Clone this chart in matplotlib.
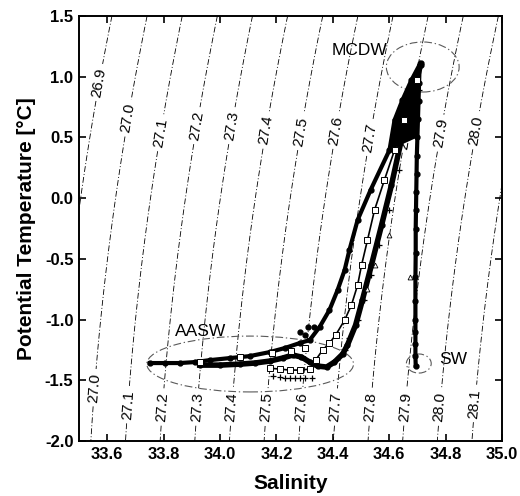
import numpy as np
import matplotlib
matplotlib.use('Agg')
import matplotlib.pyplot as plt
from matplotlib.patches import Ellipse

plt.rcParams['font.family'] = ['Liberation Sans', 'DejaVu Sans']
plt.rcParams['axes.unicode_minus'] = False

# ---------------- data ----------------
sigma_levels = [26.9, 27.0, 27.1, 27.2, 27.3, 27.4, 27.5, 27.6, 27.7, 27.8, 27.9, 28.0, 28.1]

# contour label anchor positions (salinity, temperature)
label_upper_S = [33.578, 33.673, 33.787, 33.911, 34.035, 34.162, 34.282, 34.406, 34.530, 34.672, 34.771, 34.895]
label_upper_T = [0.95, 0.66, 0.54, 0.60, 0.60, 0.56, 0.55, 0.56, 0.50, 0.52, 0.54, 0.56]
label_lower_S = [33.550, 33.670, 33.797, 33.918, 34.040, 34.151, 34.282, 34.410, 34.534, 34.661, 34.778, 34.902]
label_lower_T = [-1.56, -1.70, -1.72, -1.72, -1.72, -1.72, -1.72, -1.72, -1.72, -1.72, -1.72, -1.69]

# branch A (filled circles, left branch)
A_S = [34.711, 34.679, 34.647, 34.619, 34.601, 34.534, 34.488, 34.459, 34.442, 34.417, 34.388,
       34.353, 34.318, 34.282, 34.229, 34.176, 34.105, 34.035, 33.964, 33.911, 33.858, 33.804, 33.751]
A_T = [1.113, 0.973, 0.808, 0.643, 0.396, 0.067, -0.180, -0.427, -0.592, -0.757, -0.922,
       -1.062, -1.169, -1.194, -1.235, -1.268, -1.301, -1.317, -1.334, -1.350, -1.358, -1.358, -1.358]

# branch B (filled circles, hooked branch)
B_S = [34.711, 34.679, 34.643, 34.608, 34.573, 34.537, 34.505, 34.481, 34.452, 34.435, 34.406,
       34.378, 34.346, 34.318, 34.289, 34.258, 34.222, 34.176, 34.123, 34.070, 33.999, 33.928]
B_T = [1.096, 0.808, 0.479, 0.108, -0.222, -0.551, -0.839, -1.045, -1.210, -1.284, -1.350,
       -1.391, -1.383, -1.350, -1.309, -1.292, -1.317, -1.342, -1.358, -1.367, -1.375, -1.375]

# branch C (open squares)
C_S = [34.700, 34.654, 34.619, 34.583, 34.548, 34.523, 34.502, 34.488, 34.466, 34.442, 34.410,
       34.388, 34.364, 34.339, 34.318, 34.282, 34.247, 34.212, 34.176]
C_T = [0.973, 0.643, 0.396, 0.149, -0.098, -0.345, -0.551, -0.716, -0.881, -1.004, -1.128,
       -1.194, -1.251, -1.334, -1.408, -1.416, -1.416, -1.408, -1.400]
C2_S = [34.183, 34.070, 33.928, 34.300, 34.250]
C2_T = [-1.276, -1.309, -1.350, -1.230, -1.260]

# branch D (plus signs)
D_S = [34.707, 34.672, 34.636, 34.601, 34.565, 34.537, 34.512, 34.488, 34.459, 34.442,
       34.325, 34.300, 34.282, 34.265, 34.247, 34.230, 34.212, 34.187]
D_T = [0.890, 0.561, 0.231, -0.098, -0.386, -0.633, -0.839, -1.004, -1.152, -1.251,
       -1.482, -1.482, -1.482, -1.480, -1.482, -1.478, -1.474, -1.466]

# triangles
E_S = [34.672, 34.600, 34.550, 34.520]
E_T = [-0.650, -0.300, -0.550, -0.750]

# shelf-water column (filled circles)
SW_S = [34.708, 34.706, 34.704, 34.702, 34.700, 34.698, 34.697, 34.696, 34.695, 34.694, 34.694,
        34.693, 34.693, 34.693, 34.693, 34.693, 34.693, 34.694]
SW_T = [1.10, 0.95, 0.80, 0.65, 0.50, 0.35, 0.20, 0.05, -0.10, -0.25, -0.45,
        -0.65, -0.85, -1.00, -1.10, -1.20, -1.30, -1.38]

# scattered dots
X_S = [34.311, 34.335, 34.282, 34.300]
X_T = [-1.062, -1.062, -1.103, -1.130]

# water-mass ellipses
mass_names = ['MCDW', 'AASW', 'SW']
ell_S = [34.719, 34.107, 34.705]
ell_T = [1.080, -1.366, -1.362]
ell_w = [0.258, 0.733, 0.088]
ell_h = [0.412, 0.460, 0.157]
name_S = [34.495, 33.932, 34.827]
name_T = [1.22, -1.10, -1.33]


def sigma0(S, T):
    rw = (999.842594 + 6.793952e-2 * T - 9.095290e-3 * T**2 + 1.001685e-4 * T**3
          - 1.120083e-6 * T**4 + 6.536332e-9 * T**5)
    A = 8.24493e-1 - 4.0899e-3 * T + 7.6438e-5 * T**2 - 8.2467e-7 * T**3 + 5.3875e-9 * T**4
    B = -5.72466e-3 + 1.0227e-4 * T - 1.6546e-6 * T**2
    C = 4.8314e-4
    return rw + A * S + B * S**1.5 + C * S**2 - 1000.0


fig = plt.figure(figsize=(5.2, 4.96), dpi=100)
ax = fig.add_axes([79 / 520, 1 - 441 / 496, 423 / 520, 425 / 496])

sg, tg = np.meshgrid(np.linspace(33.5, 35.0, 300), np.linspace(-2.0, 1.5, 300))
dens = sigma0(sg, tg)
dd = (0, (7, 2.5, 1.2, 2.5))
cs = ax.contour(sg, tg, dens, levels=sigma_levels, colors='black', linewidths=0.6,
                linestyles=[dd], zorder=1)
manual = list(zip(label_upper_S, label_upper_T)) + list(zip(label_lower_S, label_lower_T))
labels = ax.clabel(cs, levels=sigma_levels, manual=manual, inline=True, inline_spacing=4,
                   fmt='%.1f', fontsize=11)
for t in labels:
    t.set_zorder(1.5)

for cx, cy, w, h in zip(ell_S, ell_T, ell_w, ell_h):
    ax.add_patch(Ellipse((cx, cy), w, h, fill=False, ec='0.35', lw=0.8, ls=dd, zorder=2))
for n, x, y in zip(mass_names, name_S, name_T):
    ax.text(x, y, n, fontsize=12.5, ha='center', va='center', zorder=4)

# dense upper wedge where all warm profiles overlap
ax.fill(np.r_[A_S[:5], SW_S[4::-1]], np.r_[A_T[:5], SW_T[4::-1]], color='black', lw=0, zorder=3)

ax.plot(A_S, A_T, '-', color='black', lw=3.0, marker='o', ms=3.5, zorder=3)
ax.plot(B_S, B_T, '-', color='black', lw=4.0, marker='o', ms=3.5, zorder=3)
ax.plot(SW_S, SW_T, '-', color='black', lw=3.0, marker='o', ms=3.5, zorder=3)
ax.plot(C_S, C_T, '-', color='black', lw=1.2, marker='s', ms=4.5, mfc='white', mec='black',
        mew=0.7, zorder=3.2)
ax.plot(C2_S, C2_T, 's', ms=4.5, mfc='white', mec='black', mew=0.7, zorder=3.2)
ax.plot(D_S, D_T, '+', color='black', ms=5, mew=0.9, zorder=3.1)
ax.plot(E_S, E_T, '^', ms=3.5, mfc='white', mec='black', mew=0.6, zorder=3.1)
ax.plot(X_S, X_T, 'o', color='black', ms=3.5, zorder=3)

ax.set_xlim(33.5, 35.0)
ax.set_ylim(-2.0, 1.5)
ax.set_xticks([33.6, 33.8, 34.0, 34.2, 34.4, 34.6, 34.8, 35.0])
ax.set_xticklabels(['33.6', '33.8', '34.0', '34.2', '34.4', '34.6', '34.8', '35.0'])
ax.set_yticks([-2.0, -1.5, -1.0, -0.5, 0.0, 0.5, 1.0, 1.5])
ax.set_yticklabels(['-2.0', '-1.5', '-1.0', '-0.5', '0.0', '0.5', '1.0', '1.5'])
for lab in ax.get_xticklabels() + ax.get_yticklabels():
    lab.set_fontweight('bold')
    lab.set_fontsize(12)
ax.tick_params(axis='both', which='both', direction='in', length=5, width=1.2,
               top=True, right=True, pad=4)
for sp in ax.spines.values():
    sp.set_linewidth(1.4)

ax.set_xlabel('Salinity', fontsize=15, fontweight='bold')
ax.set_ylabel('Potential Temperature [°C]', fontsize=15, fontweight='bold')
ax.xaxis.label.set_va('center')
ax.yaxis.label.set_va('center')
ax.xaxis.set_label_coords(0.5, -0.099)
ax.yaxis.set_label_coords(-0.125, 0.5)

fig.savefig('out.png', dpi=100)
